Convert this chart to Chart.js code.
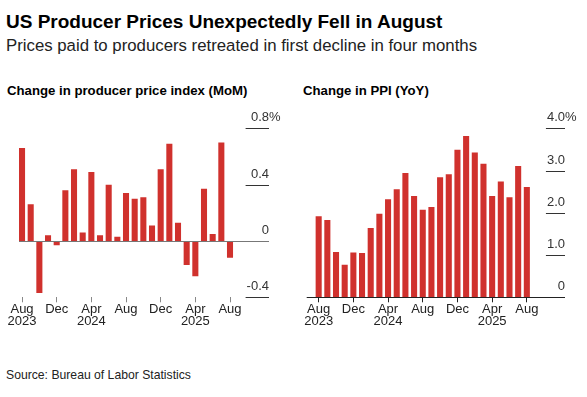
<!DOCTYPE html>
<html>
<head>
<meta charset="utf-8">
<script src="https://cdn.jsdelivr.net/npm/chart.js@4.4.1/dist/chart.umd.min.js"></script>
<style>
  body { margin: 0; background: #fff; }
  #page { position: relative; width: 587px; height: 397px; overflow: hidden;
          font-family: "Liberation Sans", Arial, sans-serif; color: #000; }
  .txt { position: absolute; left: 6px; white-space: nowrap; }
  #title { top: 12px; font-size: 19px; line-height: 19px; font-weight: bold; }
  #subtitle { top: 37.5px; font-size: 16.8px; line-height: 16.8px; color: #222; }
  .ptitle { top: 83.5px; font-size: 13.2px; line-height: 13.2px; font-weight: bold; }
  #source { top: 368.5px; font-size: 12.2px; line-height: 12.2px; color: #222; }
  .panel { position: absolute; top: 100px; height: 240px; }
</style>
</head>
<body>
<div id="page">
  <div id="title" class="txt">US Producer Prices Unexpectedly Fell in August</div>
  <div id="subtitle" class="txt">Prices paid to producers retreated in first decline in four months</div>
  <div class="txt ptitle" style="left:7px">Change in producer price index (MoM)</div>
  <div class="txt ptitle" style="left:303px">Change in PPI (YoY)</div>
  <div class="panel" style="left:0;width:290px"><canvas id="mom" width="290" height="240"></canvas></div>
  <div class="panel" style="left:290px;width:297px"><canvas id="yoy" width="297" height="240"></canvas></div>
  <div id="source" class="txt">Source: Bureau of Labor Statistics</div>
</div>
<script>
// monthly data, Aug 2023 .. Aug 2025
const months = ['Aug 2023', 'Sep 2023', 'Oct 2023', 'Nov 2023', 'Dec 2023',
  'Jan 2024', 'Feb 2024', 'Mar 2024', 'Apr 2024', 'May 2024', 'Jun 2024', 'Jul 2024',
  'Aug 2024', 'Sep 2024', 'Oct 2024', 'Nov 2024', 'Dec 2024',
  'Jan 2025', 'Feb 2025', 'Mar 2025', 'Apr 2025', 'May 2025', 'Jun 2025', 'Jul 2025', 'Aug 2025'];

const momValues = [0.66, 0.26, -0.37, 0.04, -0.03, 0.36, 0.51, 0.06, 0.49, 0.04, 0.40, 0.03,
  0.34, 0.30, 0.31, 0.11, 0.51, 0.69, 0.13, -0.17, -0.25, 0.37, 0.05, 0.70, -0.12];

const yoyValues = [1.92, 1.83, 1.07, 0.77, 1.06, 1.05, 1.64, 1.98, 2.32, 2.56, 2.94, 2.40,
  2.07, 2.14, 2.84, 2.91, 3.49, 3.82, 3.43, 3.16, 2.40, 2.74, 2.37, 3.11, 2.61];

// x ticks every four months (index into months)
const xTickPos = [0, 4, 8, 12, 16, 20, 24];
const xTickLabels = [['Aug', '2023'], 'Dec', ['Apr', '2024'], 'Aug', 'Dec', ['Apr', '2025'], 'Aug'];

const momTicks = [-0.4, 0, 0.4, 0.8];
const momTickLabels = ['-0.4', '0', '0.4', '0.8%'];
const yoyTicks = [0, 1, 2, 3, 4];
const yoyTickLabels = ['0', '1.0', '2.0', '3.0', '4.0%'];

const RED = '#d0312d';
const FONT = '"Liberation Sans", Arial, sans-serif';

// short gridlines with labels sitting on top, Bloomberg style, on the right side
const rightTicks = {
  id: 'rightTicks',
  afterDatasetsDraw(chart, args, opts) {
    const { ctx, chartArea } = chart;
    const y = chart.scales.y;
    ctx.save();
    ctx.font = '13px ' + FONT;
    const plain = opts.labels.map(s => s.replace('%', ''));
    const len = Math.max(...plain.map(s => ctx.measureText(s).width)) + 1;
    opts.values.forEach((v, i) => {
      const py = Math.round(y.getPixelForValue(v)) + 0.5;
      const isBase = v === opts.base;
      ctx.strokeStyle = isBase ? opts.baseColor : '#333';
      ctx.lineWidth = 1;
      ctx.beginPath();
      ctx.moveTo(isBase ? chartArea.left : chartArea.right - len, py);
      ctx.lineTo(chartArea.right, py);
      ctx.stroke();
      ctx.fillStyle = '#333';
      ctx.textBaseline = 'alphabetic';
      ctx.textAlign = 'right';
      ctx.fillText(plain[i], chartArea.right, py - 8);
      if (opts.labels[i].endsWith('%')) {
        ctx.textAlign = 'left';
        ctx.fillText('%', chartArea.right, py - 8);
      }
    });
    ctx.restore();
  }
};

function makeChart(id, values, yMin, yMax, xMin, xMax, pad, tickColor, yTicks, yLabels, baseColor) {
  return new Chart(document.getElementById(id), {
    type: 'bar',
    data: {
      datasets: [{
        data: values.map((v, i) => ({ x: i, y: v })),
        backgroundColor: RED,
        borderWidth: 0,
        barPercentage: 0.7,
        categoryPercentage: 1
      }]
    },
    options: {
      responsive: false,
      animation: false,
      devicePixelRatio: 1,
      layout: { padding: pad },
      plugins: {
        legend: { display: false },
        tooltip: { enabled: false },
        rightTicks: { values: yTicks, labels: yLabels, base: 0, baseColor: baseColor }
      },
      scales: {
        x: {
          type: 'linear',
          min: xMin,
          max: xMax,
          offset: false,
          grid: { offset: false, drawOnChartArea: false, drawTicks: true, tickLength: 5, color: tickColor },
          border: { display: false },
          afterBuildTicks: s => { s.ticks = xTickPos.map(v => ({ value: v })); },
          afterFit: s => { s.height = 32; },
          ticks: {
            autoSkip: false,
            maxRotation: 0,
            padding: 2,
            color: '#222',
            font: { family: FONT, size: 13, lineHeight: 0.86 },
            callback: (v, i) => xTickLabels[i]
          }
        },
        y: { display: false, min: yMin, max: yMax }
      }
    },
    plugins: [rightTicks]
  });
}

makeChart('mom', momValues, -0.4, 0.8, -0.35, 28.5,
  { left: 19, right: 21, top: 28.3, bottom: 10.7 }, '#888', momTicks, momTickLabels, '#777');
makeChart('yoy', yoyValues, 0, 4, -1.38, 28.4,
  { left: 16.7, right: 22, top: 28.3, bottom: 10.7 }, '#222', yoyTicks, yoyTickLabels, '#222');
</script>
</body>
</html>
